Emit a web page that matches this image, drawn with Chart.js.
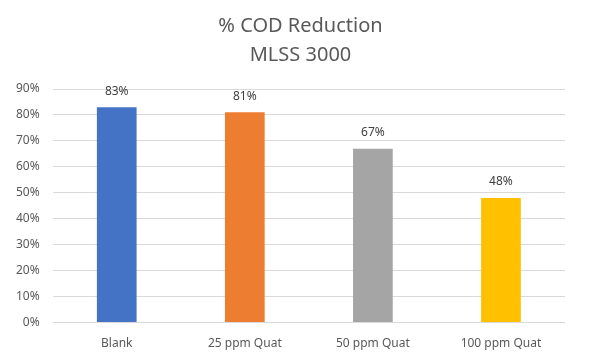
<!DOCTYPE html>
<html><head><meta charset="utf-8">
<script src="https://cdn.jsdelivr.net/npm/chart.js@4.4.0/dist/chart.umd.min.js"></script>
<style>html,body{margin:0;padding:0;background:#fff}#wrap{width:601px;height:360px}</style>
</head><body><div id="wrap"><canvas id="c" width="601" height="360"></canvas></div>
<script>
const categories = ["Blank", "25 ppm Quat", "50 ppm Quat", "100 ppm Quat"];
const values = [0.83, 0.81, 0.67, 0.48];
const barColors = ["#4472C4", "#ED7D31", "#A5A5A5", "#FFC000"];
const titleLines = ["% COD Reduction", "MLSS 3000"];

const labelPlugin = {
  id: 'barLabels',
  afterDatasetsDraw(chart) {
    const ctx = chart.ctx;
    const meta = chart.getDatasetMeta(0);
    ctx.save();
    ctx.font = '12px "Noto Sans"';
    ctx.fillStyle = '#404040';
    ctx.textAlign = 'center';
    ctx.textBaseline = 'middle';
    meta.data.forEach((bar, i) => {
      ctx.fillText(Math.round(values[i] * 100) + '%', bar.x, bar.y - 16);
    });
    ctx.restore();
  }
};

const centeredTitle = {
  id: 'centeredTitle',
  afterDraw(chart) {
    const ctx = chart.ctx;
    ctx.save();
    ctx.font = '20px "Noto Sans"';
    ctx.fillStyle = '#595959';
    ctx.textAlign = 'center';
    ctx.textBaseline = 'middle';
    titleLines.forEach((t, i) => ctx.fillText(t, chart.width / 2, 26 + i * 29));
    ctx.restore();
  }
};

new Chart(document.getElementById('c'), {
  type: 'bar',
  data: {
    labels: categories,
    datasets: [{ data: values, backgroundColor: barColors, borderWidth: 0,
      categoryPercentage: 1, barPercentage: 0.31 }]
  },
  options: {
    responsive: false,
    animation: false,
    devicePixelRatio: 1,
    layout: { padding: { left: 3, right: 36, top: 89, bottom: -5 } },
    plugins: {
      legend: { display: false },
      tooltip: { enabled: false },
      title: { display: false }
    },
    scales: {
      x: {
        grid: { display: false, drawTicks: false },
        border: { display: false },
        ticks: { color: '#595959', font: { family: '"Noto Sans"', size: 12 }, padding: 14 }
      },
      y: {
        min: 0, max: 0.9,
        grid: { color: '#d9d9d9', drawTicks: false, lineWidth: 1 },
        border: { display: false },
        ticks: { stepSize: 0.1, color: '#595959', padding: 13,
          font: { family: '"Noto Sans"', size: 12 },
          callback: v => Math.round(v * 100) + '%' }
      }
    }
  },
  plugins: [labelPlugin, centeredTitle]
});
</script></body></html>
